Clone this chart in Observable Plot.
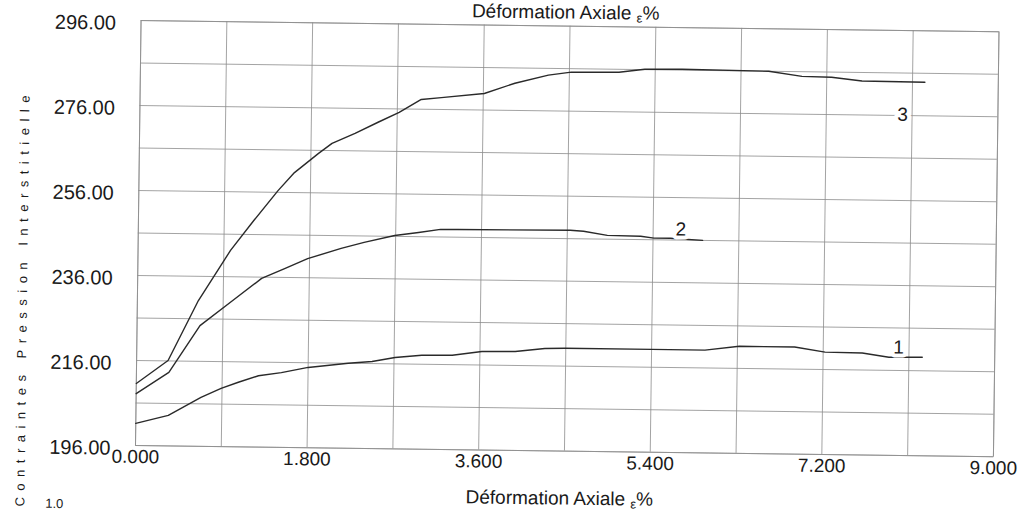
<!DOCTYPE html>
<html>
<head>
<meta charset="utf-8">
<script src="https://cdn.jsdelivr.net/npm/d3@7"></script>
<script src="https://cdn.jsdelivr.net/npm/@observablehq/plot@0.6"></script>
<style>
  html, body { margin: 0; padding: 0; background: #ffffff; overflow: hidden; }
  #chart { width: 1021px; height: 513px; overflow: hidden; position: relative; }
</style>
</head>
<body>
<div id="chart"></div>
<script>
// ---- Data ----
const curve1X = [0, 0.34, 0.68, 0.89, 1.07, 1.28, 1.52, 1.80, 2.22, 2.47, 2.71, 2.99, 3.31, 3.62, 3.97, 4.28, 4.49, 5.40, 5.96, 6.32, 6.90, 7.22, 7.61, 7.89, 8.24];
const curve1Y = [201.2, 203.2, 207.5, 209.7, 211.2, 212.8, 213.6, 214.9, 216.0, 216.5, 217.5, 218.1, 218.2, 219.2, 219.3, 220.1, 220.2, 220.2, 220.2, 221.2, 221.2, 220.1, 220.0, 219.1, 219.2];

const curve2X = [0, 0.34, 0.66, 1.00, 1.30, 1.54, 1.78, 2.13, 2.37, 2.69, 2.94, 3.17, 3.35, 4.53, 4.67, 4.92, 5.27, 5.41, 5.58, 5.92];
const curve2Y = [208.2, 213.3, 224.4, 230.4, 235.7, 238.1, 240.5, 243.0, 244.5, 246.2, 247.0, 247.8, 247.8, 248.0, 247.8, 246.9, 246.8, 246.4, 246.4, 246.0];

const curve3X = [0, 0.33, 0.64, 0.97, 1.21, 1.46, 1.63, 1.88, 2.02, 2.26, 2.50, 2.72, 2.95, 3.16, 3.61, 3.93, 4.28, 4.52, 5.02, 5.29, 5.68, 6.59, 6.94, 7.25, 7.57, 8.23];
const curve3Y = [210.6, 216.1, 230.3, 242.2, 249.3, 256.4, 260.7, 265.3, 267.7, 270.1, 272.8, 275.2, 278.3, 278.8, 279.9, 282.4, 284.4, 285.2, 285.3, 286.1, 286.2, 286.0, 284.9, 284.8, 284.0, 283.9];

const curveNames = ["1", "2", "3"];
const labelX = [7.99, 5.69, 8.0];
const labelY = [221.4, 248.5, 276.2];

const xTicks = [0, 1.8, 3.6, 5.4, 7.2, 9.0];
const yTicks = [196, 216, 236, 256, 276, 296];
const xGrid = [0, 0.9, 1.8, 2.7, 3.6, 4.5, 5.4, 6.3, 7.2, 8.1, 9.0];
const yGrid = [196, 206, 216, 226, 236, 246, 256, 266, 276, 286, 296];

const axisTitle = "Déformation Axiale ";
const yTitle = "Contraintes Pression Interstitielle";
const cornerNote = "1.0";

// ---- Build tables ----
const rows = [];
[[curve1X, curve1Y], [curve2X, curve2Y], [curve3X, curve3Y]].forEach(([xs, ys], i) => {
  xs.forEach((x, j) => rows.push({curve: curveNames[i], x, y: ys[j]}));
});
const labels = curveNames.map((t, i) => ({t, x: labelX[i], y: labelY[i]}));

const font = "'Liberation Sans', Arial, Helvetica, sans-serif";

const plot = Plot.plot({
  width: 1021,
  height: 513,
  marginLeft: 135,
  marginRight: 28,
  marginTop: 20,
  marginBottom: 68,
  style: {fontFamily: font, background: "transparent", color: "#1a1a1a", overflow: "visible"},
  x: {domain: [0, 9]},
  y: {domain: [196, 296]},
  marks: [
    Plot.ruleX(xGrid, {stroke: "#8c8c8c", strokeWidth: 0.8}),
    Plot.ruleY(yGrid, {stroke: "#8c8c8c", strokeWidth: 0.8}),
    Plot.frame({stroke: "#8c8c8c", strokeWidth: 0.8}),
    Plot.line(rows, {x: "x", y: "y", z: "curve", stroke: "#2a2a2a", strokeWidth: 1.4}),
    Plot.text(labels, {x: "x", y: "y", text: "t", fontSize: 19, fill: "#1a1a1a", stroke: "white", strokeWidth: 8}),
    Plot.axisX({ticks: xTicks, tickFormat: d3.format(".3f"), tickSize: 0, tickPadding: 4, fontSize: 19, label: null}),
    Plot.axisY({ticks: yTicks, tickFormat: d3.format(".2f"), tickSize: 0, tickPadding: 25, fontSize: 20, dy: 3, label: null})
  ]
});

const svg = d3.select(plot);

function addTitle(yBase) {
  const t = svg.append("text")
    .attr("x", 560).attr("y", yBase)
    .attr("text-anchor", "middle")
    .attr("font-size", 19)
    .attr("font-family", font)
    .attr("fill", "#1a1a1a");
  t.append("tspan").text(axisTitle);
  t.append("tspan").attr("font-size", 13).attr("dy", 3).text("ε");
  t.append("tspan").attr("dy", -3).text("%");
}
addTitle(13);
addTitle(499);

svg.append("text")
  .attr("transform", "translate(25,508) rotate(-90)")
  .attr("text-anchor", "start")
  .attr("font-size", 13)
  .attr("letter-spacing", "6.5px")
  .attr("font-family", font)
  .attr("fill", "#1a1a1a")
  .text(yTitle);

svg.append("text")
  .attr("x", 46).attr("y", 509)
  .attr("text-anchor", "start")
  .attr("font-size", 13)
  .attr("font-family", font)
  .attr("fill", "#1a1a1a")
  .text(cornerNote);

plot.style.transformOrigin = "135px 445px";
plot.style.transform = "rotate(0.75deg)";
document.getElementById("chart").append(plot);
</script>
</body>
</html>
